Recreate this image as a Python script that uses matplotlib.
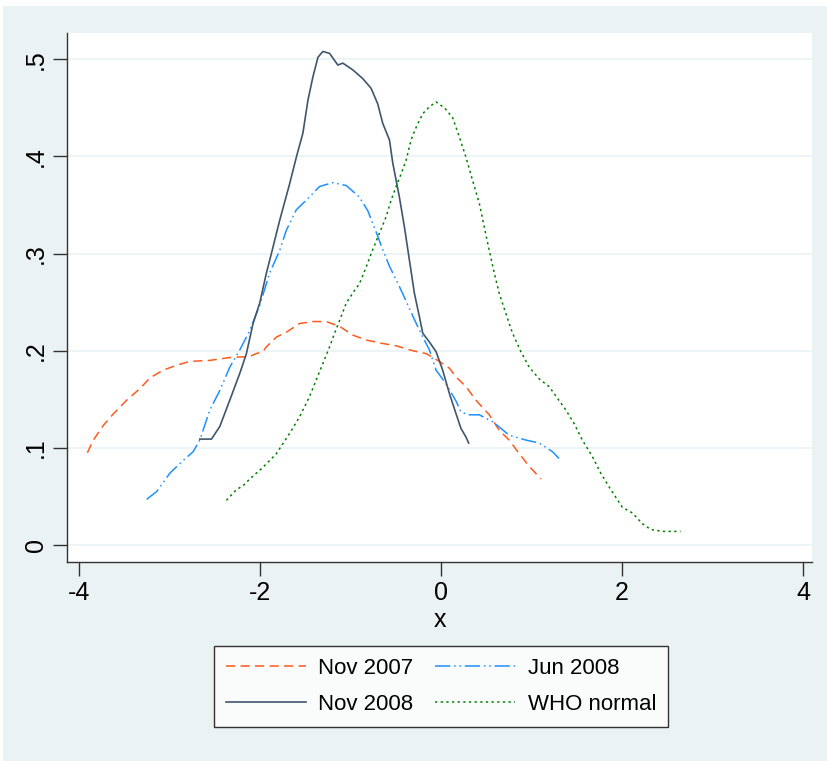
import matplotlib
matplotlib.use("Agg")
import matplotlib.pyplot as plt
from matplotlib.patches import Rectangle

# Nov 2007
nov07_x = [-3.905, -3.839, -3.729, -3.618, -3.471, -3.324, -3.214, -3.067, -2.92, -2.773,
           -2.552, -2.332, -2.11, -2.04, -1.965, -1.927, -1.817, -1.707, -1.56, -1.413,
           -1.266, -1.119, -0.972, -0.825, -0.678, -0.494, -0.311, -0.163, -0.017, 0.094,
           0.168, 0.278, 0.388, 0.535, 0.645, 0.755, 0.866, 0.976, 1.105]
nov07_y = [0.095, 0.108, 0.123, 0.135, 0.149, 0.161, 0.172, 0.180, 0.185, 0.189,
           0.190, 0.193, 0.194, 0.197, 0.199, 0.204, 0.214, 0.219, 0.228, 0.230,
           0.230, 0.225, 0.216, 0.211, 0.208, 0.205, 0.200, 0.197, 0.189, 0.182,
           0.173, 0.163, 0.149, 0.134, 0.118, 0.108, 0.094, 0.081, 0.068]

# Jun 2008
jun08_x = [-3.25, -3.14, -2.993, -2.847, -2.737, -2.663, -2.552, -2.442, -2.332, -2.22,
           -2.11, -2.0, -1.891, -1.781, -1.707, -1.597, -1.486, -1.34, -1.193, -1.045,
           -0.899, -0.807, -0.714, -0.642, -0.568, -0.458, -0.384, -0.292, -0.2, -0.127,
           -0.053, 0.057, 0.168, 0.222, 0.3, 0.424, 0.571, 0.755, 0.939, 1.086, 1.233, 1.306]
jun08_y = [0.047, 0.055, 0.074, 0.087, 0.096, 0.108, 0.139, 0.159, 0.183, 0.201,
           0.221, 0.247, 0.280, 0.303, 0.324, 0.345, 0.355, 0.369, 0.373, 0.370,
           0.358, 0.344, 0.322, 0.304, 0.287, 0.266, 0.251, 0.232, 0.214, 0.201,
           0.180, 0.166, 0.148, 0.137, 0.134, 0.134, 0.127, 0.113, 0.108, 0.105, 0.096, 0.089]

# Nov 2008
nov08_x = [-2.663, -2.534, -2.442, -2.332, -2.22, -2.148, -2.075, -2.001, -1.927, -1.872,
           -1.781, -1.67, -1.597, -1.524, -1.468, -1.413, -1.358, -1.303, -1.229, -1.138,
           -1.083, -0.972, -0.862, -0.77, -0.697, -0.642, -0.568, -0.531, -0.458, -0.402,
           -0.347, -0.292, -0.237, -0.2, -0.127, -0.053, 0.02, 0.094, 0.168, 0.222, 0.278, 0.307]
nov08_y = [0.109, 0.109, 0.122, 0.149, 0.177, 0.197, 0.228, 0.249, 0.280, 0.300,
           0.334, 0.372, 0.399, 0.424, 0.458, 0.482, 0.502, 0.508, 0.506, 0.494,
           0.496, 0.489, 0.480, 0.470, 0.454, 0.434, 0.417, 0.393, 0.358, 0.327,
           0.293, 0.259, 0.235, 0.218, 0.209, 0.199, 0.180, 0.156, 0.135, 0.120, 0.111, 0.105]

# WHO normal
who_x = [-2.369, -2.258, -2.185, -2.11, -1.965, -1.817, -1.67, -1.56, -1.45, -1.376,
         -1.303, -1.229, -1.174, -1.119, -1.045, -0.954, -0.899, -0.825, -0.77, -0.678,
         -0.604, -0.549, -0.494, -0.439, -0.384, -0.329, -0.273, -0.2, -0.127, -0.053,
         0.039, 0.13, 0.204, 0.278, 0.351, 0.424, 0.48, 0.535, 0.59, 0.645,
         0.719, 0.792, 0.884, 0.976, 1.086, 1.196, 1.288, 1.381, 1.472, 1.563,
         1.674, 1.766, 1.877, 2.004, 2.115, 2.225, 2.318, 2.446, 2.648]
who_y = [0.046, 0.057, 0.061, 0.068, 0.080, 0.094, 0.115, 0.132, 0.153, 0.170,
         0.187, 0.204, 0.218, 0.231, 0.249, 0.262, 0.269, 0.286, 0.300, 0.321,
         0.338, 0.355, 0.369, 0.382, 0.396, 0.417, 0.430, 0.444, 0.451, 0.456,
         0.450, 0.440, 0.420, 0.399, 0.375, 0.352, 0.327, 0.303, 0.280, 0.259,
         0.238, 0.218, 0.199, 0.183, 0.171, 0.163, 0.151, 0.139, 0.125, 0.108,
         0.091, 0.074, 0.057, 0.039, 0.033, 0.022, 0.016, 0.014, 0.014]

x_ticks = [-4, -2, 0, 2, 4]
y_ticks = [0, 0.1, 0.2, 0.3, 0.4, 0.5]
y_tick_labels = ["0", ".1", ".2", ".3", ".4", ".5"]


def main():
    plt.rcParams['font.family'] = ['Liberation Sans', 'DejaVu Sans']
    bg = '#EAF2F3'

    fig = plt.figure(figsize=(8.27, 7.61), dpi=100, facecolor='white')
    # stata-like outer background
    fig.patches.append(Rectangle((3 / 827, 0), 1, 1 - 6 / 761, transform=fig.transFigure,
                                 facecolor=bg, edgecolor='none', zorder=-10))

    ax = fig.add_axes([67 / 827, 1 - 562 / 761, 745 / 827, 529 / 761])
    ax.set_facecolor('white')

    l1, = ax.plot(nov07_x, nov07_y, color='#FF5A1E', lw=1.1, ls=(0, (6, 3.5)), label='Nov 2007')
    l2, = ax.plot(jun08_x, jun08_y, color='#1E90FF', lw=1.1,
                  ls=(0, (10, 2.5, 1, 2.5, 1, 2.5)), label='Jun 2008')
    l3, = ax.plot(nov08_x, nov08_y, color='#3F566D', lw=1.2, ls='-', label='Nov 2008')
    l4, = ax.plot(who_x, who_y, color='#008000', lw=1.1, ls=(0, (1.5, 2.2)), label='WHO normal')

    ax.set_xlim(-4.13, 4.1)
    ax.set_ylim(-0.0175, 0.527)
    ax.set_xticks(x_ticks)
    ax.set_xticklabels([str(t) for t in x_ticks])
    ax.set_yticks(y_ticks)
    ax.set_yticklabels(y_tick_labels, rotation=90, va='center')
    ax.tick_params(axis='both', labelsize=18, length=10, width=1, color='#333333', pad=4)
    ax.set_xlabel('x', fontsize=18, labelpad=2)

    ax.grid(axis='y', color=bg, lw=1.2)
    ax.set_axisbelow(True)
    for s in ['top', 'right']:
        ax.spines[s].set_visible(False)
    for s in ['left', 'bottom']:
        ax.spines[s].set_color('#333333')
        ax.spines[s].set_linewidth(1)

    # legend fills column-wise, so order gives rows: Nov07/Jun08, Nov08/WHO
    handles = [l1, l3, l2, l4]
    leg = fig.legend(handles, [h.get_label() for h in handles], loc='upper center',
                     bbox_to_anchor=(441 / 827, 1 - 646 / 761),
                     ncol=2, fontsize=16, frameon=True, fancybox=False,
                     handlelength=3.6, handletextpad=0.55, borderaxespad=0, labelspacing=0.65,
                     borderpad=0.55, columnspacing=1.0)
    leg.get_frame().set_edgecolor('black')
    leg.get_frame().set_linewidth(1)

    plt.savefig('out.png', dpi=100, facecolor=fig.get_facecolor())


if __name__ == "__main__":
    main()
